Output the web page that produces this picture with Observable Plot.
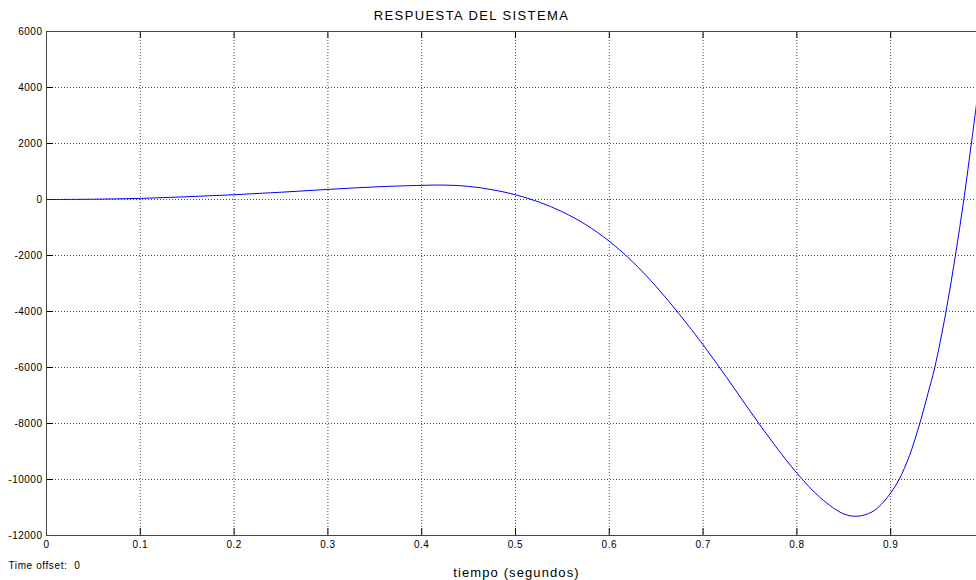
<!DOCTYPE html>
<html><head><meta charset="utf-8">
<script src="https://cdn.jsdelivr.net/npm/d3@7"></script>
<script src="https://cdn.jsdelivr.net/npm/@observablehq/plot@0.6"></script>
<style>body{margin:0;background:#fff}</style>
</head><body><div id="chart"></div>
<script>
const titulo = "RESPUESTA DEL SISTEMA";
const etiquetaX = "tiempo (segundos)";
const notaTiempo = "Time offset:  0";
const tiempo = [0, 0.05, 0.1, 0.15, 0.2, 0.25, 0.3, 0.35, 0.4, 0.425, 0.45, 0.475, 0.5, 0.525, 0.55, 0.575, 0.6, 0.625, 0.65, 0.675, 0.7, 0.725, 0.75, 0.775, 0.8, 0.825, 0.85, 0.865, 0.88, 0.89, 0.9, 0.909, 0.92, 0.931, 0.94, 0.947, 0.959, 0.969, 0.978, 0.986, 0.9915];
const respuesta = [0, 10, 40, 100, 170, 260, 360, 450, 505, 515, 470, 350, 170, -90, -440, -900, -1490, -2230, -3110, -4110, -5190, -6350, -7550, -8710, -9770, -10650, -11230, -11310, -11160, -10890, -10480, -10000, -9150, -8000, -6900, -6000, -4000, -2000, 0, 2000, 3400];
const ticksX = [0, 0.1, 0.2, 0.3, 0.4, 0.5, 0.6, 0.7, 0.8, 0.9];
const ticksY = [-12000, -10000, -8000, -6000, -4000, -2000, 0, 2000, 4000, 6000];
const dominioX = [0, 0.9915];
const dominioY = [-12000, 6000];

const datos = tiempo.map((t, i) => ({t, v: respuesta[i]}));
const W = 976, H = 580, mT = 31, mB = 45, mL = 46, mR = 0;
const fw = W - mL - mR, fh = H - mT - mB, tick = 7;
const grid = {stroke: "#000", strokeOpacity: 0.7, strokeDasharray: "1,2"};

const plot = Plot.plot({
  width: W, height: H, marginTop: mT, marginBottom: mB, marginLeft: mL, marginRight: mR,
  style: {fontFamily: "'Liberation Sans', Arial, sans-serif", fontSize: "10px", background: "#fff", color: "#000"},
  x: {domain: dominioX},
  y: {domain: dominioY},
  marks: [
    Plot.gridX(ticksX.filter(d => d > dominioX[0]), grid),
    Plot.gridY(ticksY.filter(d => d > dominioY[0] && d < dominioY[1]), grid),
    Plot.ruleX(ticksX, {stroke: "#000", insetTop: fh - tick}),
    Plot.ruleX(ticksX, {stroke: "#000", insetBottom: fh - tick}),
    Plot.ruleY(ticksY, {stroke: "#000", insetRight: fw - tick}),
    Plot.line(datos, {x: "t", y: "v", stroke: "#0000ff", strokeWidth: 1, curve: "catmull-rom"}),
    Plot.ruleY(dominioY, {stroke: "#444"}),
    Plot.ruleX([dominioX[0]], {stroke: "#444"}),
    Plot.axisX(ticksX, {tickSize: 0, tickPadding: 5, label: null, tickFormat: d => String(d)}),
    Plot.axisY(ticksY, {tickSize: 0, tickPadding: 4, label: null, tickFormat: d => String(d)}),
    Plot.text([titulo], {frameAnchor: "top-left", dx: 425, dy: -11.7, lineAnchor: "bottom", textAnchor: "middle", fontSize: 13}),
    Plot.text([etiquetaX], {frameAnchor: "bottom", dx: 5, dy: 41.7, lineAnchor: "bottom", fontSize: 13}),
    Plot.text([notaTiempo], {frameAnchor: "bottom-left", dx: -38, dy: 33, lineAnchor: "bottom", textAnchor: "start", fontSize: 10})
  ]
});

const sel = d3.select(plot);
sel.selectAll("text").each(function() {
  const t = this.textContent;
  let ls = "0.5px";
  if (t === titulo) ls = "1.4px";
  else if (t === etiquetaX) ls = "1.1px";
  else if (t === notaTiempo) ls = "0.6px";
  d3.select(this).style("letter-spacing", ls).style("white-space", "pre");
});
document.getElementById("chart").appendChild(plot);
</script>
</body></html>
